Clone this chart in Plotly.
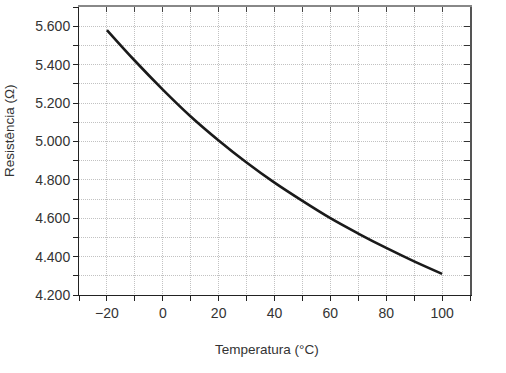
import plotly.graph_objects as go

temperatura = [-20, -10, 0, 10, 20, 30, 40, 50, 60, 70, 80, 90, 100]
resistencia = [5.58, 5.42, 5.27, 5.13, 5.005, 4.89, 4.785, 4.69, 4.60, 4.52, 4.445, 4.375, 4.31]

xrange_ = [-30, 110]
yrange_ = [4.2, 5.7]

font = "Liberation Sans, Arial, sans-serif"
grid_col = "#c2c2c2"
gdash = "1px,1px"

W, H = 506, 373
L, R, T, B = 79, 36, 7, 78

fig = go.Figure()
fig.add_trace(go.Scatter(x=temperatura, y=resistencia, mode="lines",
                         line=dict(color="#1a1a1a", width=2.6, shape="spline"),
                         showlegend=False, hoverinfo="skip"))
fig.add_trace(go.Scatter(x=temperatura, y=resistencia, mode="lines", xaxis="x2", yaxis="y2",
                         line=dict(color="rgba(0,0,0,0)", width=0), showlegend=False, hoverinfo="skip"))

pw = W - L - R
ph = H - T - B

fig.update_layout(
    width=W, height=H,
    margin=dict(l=L, r=R, t=T, b=B),
    paper_bgcolor="white", plot_bgcolor="white",
    font=dict(family=font, size=14, color="#333333"),
    hovermode=False,
    xaxis=dict(range=xrange_, tick0=-20, dtick=20, ticks="outside", ticklen=5, tickcolor="#222",
               showline=True, linecolor="#222", linewidth=1, automargin=False,
               showgrid=True, gridcolor=grid_col, griddash=gdash, gridwidth=1,
               zeroline=False,
               minor=dict(tick0=-20, dtick=10, ticks="outside", ticklen=5, tickcolor="#222",
                          showgrid=True, gridcolor=grid_col, griddash=gdash, gridwidth=1),
               tickfont=dict(size=14)),
    yaxis=dict(range=yrange_, tick0=4.2, dtick=0.2, tickformat=".3f", ticks="outside", ticklen=5,
               tickcolor="#222", showline=True, linecolor="#222", linewidth=1, automargin=False,
               showgrid=True, gridcolor=grid_col, griddash=gdash, gridwidth=1,
               zeroline=False,
               minor=dict(tick0=4.2, dtick=0.1, ticks="outside", ticklen=5, tickcolor="#222",
                          showgrid=True, gridcolor=grid_col, griddash=gdash, gridwidth=1),
               tickfont=dict(size=14)),
    xaxis2=dict(range=xrange_, overlaying="x", side="top", anchor="y2", tick0=-20, dtick=10,
                ticks="inside", ticklen=5, tickcolor="#444", showticklabels=False, automargin=False,
                showline=True, linecolor="#888", linewidth=2, showgrid=False, zeroline=False),
    yaxis2=dict(range=yrange_, overlaying="y", side="right", anchor="x2", tick0=4.2, dtick=0.1,
                ticks="inside", ticklen=6, tickcolor="#333", showticklabels=False, automargin=False,
                showline=True, linecolor="#555", linewidth=1.5, showgrid=False, zeroline=False),
    annotations=[
        dict(text="Temperatura (°C)", xref="paper", yref="paper",
             x=(267 - L) / pw, y=(H - B - 349) / ph, xanchor="center", yanchor="middle",
             showarrow=False, font=dict(size=13.5, color="#333")),
        dict(text="Resistência (Ω)", xref="paper", yref="paper",
             x=(9 - L) / pw, y=(H - B - 131) / ph, xanchor="center", yanchor="middle",
             textangle=-90, showarrow=False, font=dict(size=13.5, color="#333")),
    ],
)

fig.write_html("out.html", config={"displayModeBar": False, "staticPlot": True},
               post_script="document.body.style.margin='0';document.body.style.padding='0';")
